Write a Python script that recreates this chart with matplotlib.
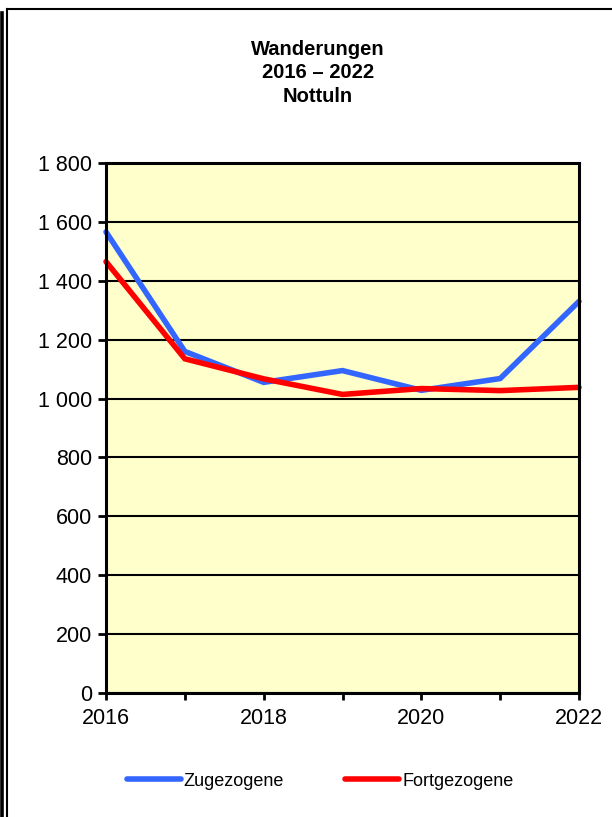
import matplotlib
matplotlib.use("Agg")
import matplotlib.pyplot as plt
from matplotlib.lines import Line2D
from matplotlib.ticker import FuncFormatter, MultipleLocator

plt.rcParams['font.family'] = ['Liberation Sans', 'DejaVu Sans']

years = [2016, 2017, 2018, 2019, 2020, 2021, 2022]
zugezogene = [1566, 1160, 1055, 1095, 1028, 1068, 1330]
fortgezogene = [1465, 1135, 1067, 1014, 1034, 1027, 1038]
title_lines = ["Wanderungen", "2016 \u2013 2022", "Nottuln"]
series_names = ["Zugezogene", "Fortgezogene"]
colors = ["#3366FF", "#FF0000"]

fig = plt.figure(figsize=(6.12, 8.17), dpi=100)
W, H = 612, 817

# frame lines
fig.add_artist(Line2D([1.5/W, 1.5/W], [0, 1 - 13/H], color='black', lw=2.6, transform=fig.transFigure))
fig.add_artist(Line2D([6.8/W, 6.8/W], [0, 1 - 9/H], color='black', lw=1.5, transform=fig.transFigure))
fig.add_artist(Line2D([6.8/W, 1], [1 - 9/H, 1 - 9/H], color='black', lw=1.5, transform=fig.transFigure))

left, right, top, bottom = 106, 579, 163, 693
ax = fig.add_axes([left/W, 1 - bottom/H, (right-left)/W, (bottom-top)/H])
ax.set_facecolor('#FFFFCC')

lw = 4.0
ax.plot(years, zugezogene, color=colors[0], lw=lw, solid_capstyle='round', solid_joinstyle='miter', zorder=3, clip_on=False)
ax.plot(years, fortgezogene, color=colors[1], lw=lw, solid_capstyle='round', solid_joinstyle='miter', zorder=4, clip_on=False)

ax.set_xlim(2016, 2022)
ax.set_ylim(0, 1800)
ax.yaxis.set_major_locator(MultipleLocator(200))
ax.xaxis.set_major_locator(MultipleLocator(2))
ax.xaxis.set_minor_locator(MultipleLocator(1))
ax.yaxis.set_major_formatter(FuncFormatter(lambda v, p: f"{int(v):,}".replace(",", " ")))
ax.grid(axis='y', color='black', lw=1.5, zorder=1)
ax.set_axisbelow(True)
for s in ax.spines.values():
    s.set_color('black')
    s.set_linewidth(2.2)
    s.set_zorder(5)
ax.tick_params(axis='both', which='both', direction='out', color='black', width=2, labelsize=15.5)
ax.tick_params(axis='y', length=6, pad=4)
ax.tick_params(axis='x', which='major', length=5, pad=6)
ax.tick_params(axis='x', which='minor', length=5)

fig.text(318/W, 1 - 73/H, "\n".join(title_lines),
         ha='center', va='center', fontsize=14.5, fontweight='bold', linespacing=1.3)

handles = [Line2D([], [], color=c, lw=lw, solid_capstyle='round') for c in colors]
fig.legend(handles, series_names, loc='center', bbox_to_anchor=(320/W, 1 - 781/H), ncol=2,
           frameon=False, fontsize=13, handlelength=3.0, handletextpad=0.15, columnspacing=3.4)

fig.savefig("out.png", dpi=100)
